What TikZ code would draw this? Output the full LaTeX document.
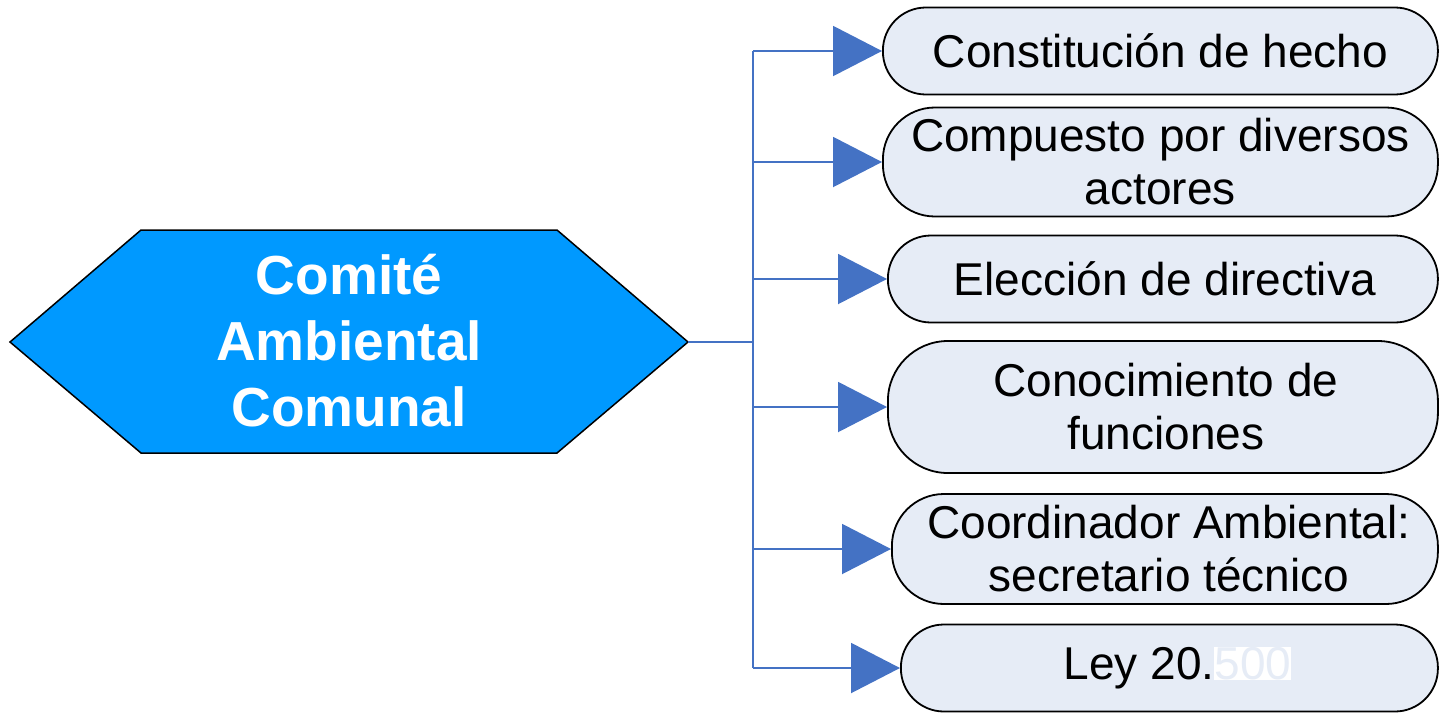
\documentclass[tikz,border=0pt]{standalone}
\usepackage{fontspec}
\setmainfont{Liberation Sans}
\usetikzlibrary{arrows.meta}
\definecolor{hexfill}{RGB}{0,153,255}
\definecolor{boxfill}{RGB}{230,236,246}
\definecolor{linkblue}{RGB}{68,114,196}
\tikzset{
  conn/.style={draw=linkblue, line width=2pt},
  arr/.style={conn, -{Triangle[length=49pt,width=50pt]}},
  itembox/.style={draw=black, line width=1.8pt, fill=boxfill, rounded corners=43pt,
    align=center, inner sep=0pt, font=\fontsize{46}{53}\selectfont, anchor=west},
}
\begin{document}
\begin{tikzpicture}[x=1pt,y=-1pt]
\useasboundingbox (0,0) rectangle (1439,715);
% hexagon
\draw[fill=hexfill, line width=1.5pt] (10,342) -- (141,230) -- (557,230) -- (688,342) -- (557,453) -- (141,453) -- cycle;
\node[align=center, text=white, font=\bfseries\fontsize{55}{66}\selectfont] (hex) at (349,341) {Comité\\Ambiental\\Comunal};
\coordinate (hexR) at (688,342);
\coordinate (bmid) at (753,342);
% boxes
\node[itembox, minimum width=555pt, minimum height=87pt] (n1) at (882,51) {Constitución de hecho};
\node[itembox, rounded corners=52pt, minimum width=555pt, minimum height=109pt] (n2) at (882,162) {Compuesto por diversos\\actores};
\node[itembox, minimum width=550pt, minimum height=87pt] (n3) at (887,279) {\hspace*{4pt}Elección de directiva};
\node[itembox, rounded corners=60pt, minimum width=550pt, minimum height=132pt] (n4) at (887,407) {\hspace*{6pt}Conocimiento de\\\hspace*{6pt}funciones};
\node[itembox, rounded corners=52pt, minimum width=546pt, minimum height=110pt] (n5) at (891,549) {\hspace*{8pt}Coordinador Ambiental:\\\hspace*{8pt}secretario técnico};
\node[itembox, minimum width=537pt, minimum height=87pt] (n6) at (900,668) {\hspace*{16pt}Ley 20.{\setlength{\fboxsep}{0pt}\colorbox{white}{\color{boxfill}500}}};
% bus
\coordinate (b1) at (753,51);
\coordinate (b2) at (753,162);
\coordinate (b3) at (753,279);
\coordinate (b4) at (753,407);
\coordinate (b5) at (753,549);
\coordinate (b6) at (753,668);
\draw[conn] (hexR) -- (bmid);
\draw[conn] (b1) -- (b6);
\foreach \i in {1,...,6} {\draw[arr] (b\i) -- (n\i.west);}
\end{tikzpicture}
\end{document}
